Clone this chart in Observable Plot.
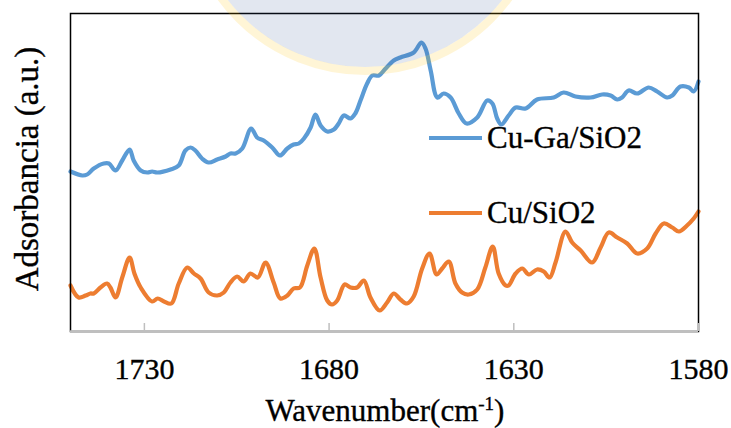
<!DOCTYPE html>
<html>
<head>
<meta charset="utf-8">
<script src="https://cdn.jsdelivr.net/npm/d3@7"></script>
<script src="https://cdn.jsdelivr.net/npm/@observablehq/plot@0.6"></script>
<style>
  body { margin: 0; background: #fff; }
  #chart svg { display: block; }
</style>
</head>
<body>
<div id="chart"></div>
<script>
// FTIR spectra, 1750–1580 cm-1 (absorbance in arbitrary units)
const wavenumberCuGa = [1750.0, 1746.8, 1745.5, 1743.7, 1741.0, 1739.6, 1737.8, 1736.0, 1734.0, 1732.9,
  1731.0, 1729.2, 1727.9, 1726.5, 1722.9, 1720.7, 1718.9, 1717.5, 1716.2, 1714.4,
  1712.6, 1710.3, 1708.0, 1706.7, 1705.3, 1703.5, 1701.1, 1699.5, 1697.7, 1695.4,
  1693.3, 1691.3, 1689.6, 1688.2, 1686.8, 1685.0, 1683.7, 1682.3, 1680.5, 1678.7,
  1677.4, 1676.0, 1674.2, 1672.9, 1671.5, 1669.7, 1668.3, 1666.5, 1664.7, 1662.5,
  1660.7, 1657.1, 1655.0, 1653.9, 1652.5, 1650.7, 1649.0, 1647.1, 1644.9, 1642.8,
  1639.9, 1637.2, 1635.8, 1634.5, 1633.4, 1631.4, 1629.5, 1626.8, 1623.7, 1619.2,
  1616.5, 1613.3, 1609.2, 1606.1, 1603.8, 1602.0, 1600.7, 1598.9, 1596.6, 1593.5,
  1591.2, 1588.5, 1587.1, 1584.9, 1582.6, 1581.3, 1580.0];
const absorbanceCuGa = [1.60, 1.56, 1.57, 1.63, 1.68, 1.68, 1.61, 1.71, 1.82, 1.71,
  1.61, 1.59, 1.60, 1.59, 1.62, 1.66, 1.81, 1.84, 1.81, 1.73,
  1.69, 1.72, 1.75, 1.78, 1.78, 1.83, 2.03, 1.94, 1.91, 1.84,
  1.76, 1.83, 1.87, 1.88, 1.93, 2.04, 2.17, 2.06, 2.00, 2.02,
  2.08, 2.16, 2.13, 2.18, 2.31, 2.48, 2.56, 2.56, 2.63, 2.71,
  2.74, 2.79, 2.89, 2.83, 2.61, 2.34, 2.38, 2.34, 2.18, 2.08,
  2.14, 2.31, 2.28, 2.13, 2.07, 2.16, 2.24, 2.23, 2.32, 2.34,
  2.39, 2.35, 2.34, 2.37, 2.36, 2.32, 2.34, 2.41, 2.38, 2.44,
  2.40, 2.34, 2.36, 2.45, 2.44, 2.40, 2.50];

const wavenumberCu = [1750.0, 1747.8, 1745.9, 1744.6, 1743.7, 1741.9, 1740.1, 1739.2, 1737.8, 1736.0,
  1734.0, 1732.7, 1731.0, 1727.9, 1726.4, 1724.7, 1722.7, 1720.7, 1718.4, 1716.6,
  1714.8, 1712.6, 1710.3, 1708.5, 1706.7, 1704.9, 1703.1, 1701.3, 1699.3, 1697.2,
  1695.0, 1693.2, 1691.3, 1689.6, 1687.9, 1685.9, 1684.0, 1682.3, 1680.5, 1679.2,
  1677.8, 1675.8, 1674.2, 1672.4, 1670.6, 1668.8, 1666.3, 1664.3, 1662.5, 1660.7,
  1658.9, 1657.1, 1654.8, 1652.8, 1650.9, 1649.4, 1647.6, 1645.8, 1644.0, 1642.2,
  1639.9, 1637.7, 1635.7, 1634.1, 1632.2, 1631.4, 1629.5, 1627.7, 1625.9, 1623.7,
  1621.9, 1620.3, 1618.7, 1616.0, 1614.2, 1611.9, 1608.8, 1606.5, 1604.3, 1602.0,
  1599.3, 1596.6, 1593.9, 1591.6, 1589.4, 1587.1, 1585.3, 1583.1, 1581.3, 1580.0];
const absorbanceCu = [0.46, 0.34, 0.36, 0.38, 0.38, 0.44, 0.48, 0.44, 0.34, 0.54,
  0.74, 0.58, 0.44, 0.30, 0.33, 0.30, 0.28, 0.48, 0.64, 0.58,
  0.53, 0.39, 0.36, 0.39, 0.49, 0.55, 0.50, 0.58, 0.54, 0.69,
  0.49, 0.33, 0.36, 0.43, 0.44, 0.66, 0.83, 0.54, 0.31, 0.27,
  0.31, 0.47, 0.44, 0.44, 0.51, 0.34, 0.21, 0.29, 0.38, 0.32,
  0.28, 0.35, 0.63, 0.78, 0.57, 0.63, 0.70, 0.48, 0.39, 0.37,
  0.42, 0.64, 0.85, 0.58, 0.46, 0.46, 0.58, 0.63, 0.57, 0.62,
  0.60, 0.54, 0.69, 1.00, 0.89, 0.81, 0.69, 0.84, 0.99, 0.94,
  0.88, 0.78, 0.83, 0.98, 1.08, 1.04, 1.00, 1.06, 1.13, 1.20];

const xTicks = [1730, 1680, 1630, 1580];
const seriesNames = ["Cu-Ga/SiO2", "Cu/SiO2"];
const seriesColors = ["#5b9bd5", "#ed7d31"];
const xTitle = ["Wavenumber(cm", "-1", ")"];
const yTitle = "Adsorbancia (a.u.)";

const rows = [
  ...wavenumberCuGa.map((w, i) => ({series: seriesNames[0], w, a: absorbanceCuGa[i]})),
  ...wavenumberCu.map((w, i) => ({series: seriesNames[1], w, a: absorbanceCu[i]}))
];

const serif = "Liberation Serif";

const chart = Plot.plot({
  width: 731,
  height: 428,
  marginLeft: 70,
  marginTop: 13,
  marginRight: 33,
  marginBottom: 97,
  x: {domain: [1750, 1580]},
  y: {domain: [0, 3.18], axis: null},
  color: {domain: seriesNames, range: seriesColors},
  style: {background: "#fff", color: "#000", fontFamily: serif},
  marks: [
    Plot.line(rows, {x: "w", y: "a", z: "series", stroke: "series", strokeWidth: 4.2, curve: "catmull-rom"}),
    Plot.frame({stroke: "#000", strokeWidth: 1.5}),
    Plot.ruleY([0], {stroke: "#bfbfbf", strokeWidth: 2.4}),
    Plot.tickX(xTicks, {x: d => d, stroke: "#bfbfbf", strokeWidth: 1.5, insetTop: 310}),
    Plot.axisX(xTicks, {tickSize: 0, tickPadding: 26, fontSize: 30, fill: "#000", label: null, tickFormat: d => String(d)})
  ]
});

document.getElementById("chart").appendChild(chart);
const svg = d3.select(chart);

// faint seal at the top centre of the frame
const seal = svg.append("g").attr("pointer-events", "none");
seal.append("circle")
  .attr("cx", 365).attr("cy", -107).attr("r", 174)
  .attr("fill", "#2f5597").attr("fill-opacity", 0.14);
seal.append("circle")
  .attr("cx", 365).attr("cy", -107).attr("r", 178)
  .attr("fill", "none").attr("stroke", "#ffc000")
  .attr("stroke-width", 8).attr("stroke-opacity", 0.16);

// legend inside the plot area
const legend = svg.append("g").attr("font-size", 31).attr("fill", "#000").attr("text-anchor", "start");
[138, 213].forEach((ly, i) => {
  legend.append("line")
    .attr("x1", 429).attr("x2", 482).attr("y1", ly).attr("y2", ly)
    .attr("stroke", seriesColors[i]).attr("stroke-width", 4.2);
  legend.append("text").attr("x", 487).attr("y", ly + 10).text(seriesNames[i]);
});

// axis titles
const xt = svg.append("text")
  .attr("x", 385).attr("y", 421).attr("text-anchor", "middle")
  .attr("font-size", 31).attr("fill", "#000");
xt.append("tspan").text(xTitle[0]);
xt.append("tspan").attr("font-size", 19).attr("dy", -11).text(xTitle[1]);
xt.append("tspan").attr("dy", 11).text(xTitle[2]);

svg.append("text")
  .attr("transform", "translate(38,169) rotate(-90)")
  .attr("text-anchor", "middle")
  .attr("font-size", 33).attr("fill", "#000")
  .text(yTitle);

// serif face and a slightly heavier stroke on every label
svg.selectAll("text")
  .style("font-family", serif)
  .attr("stroke", "#000").attr("stroke-width", 0.35);
</script>
</body>
</html>
